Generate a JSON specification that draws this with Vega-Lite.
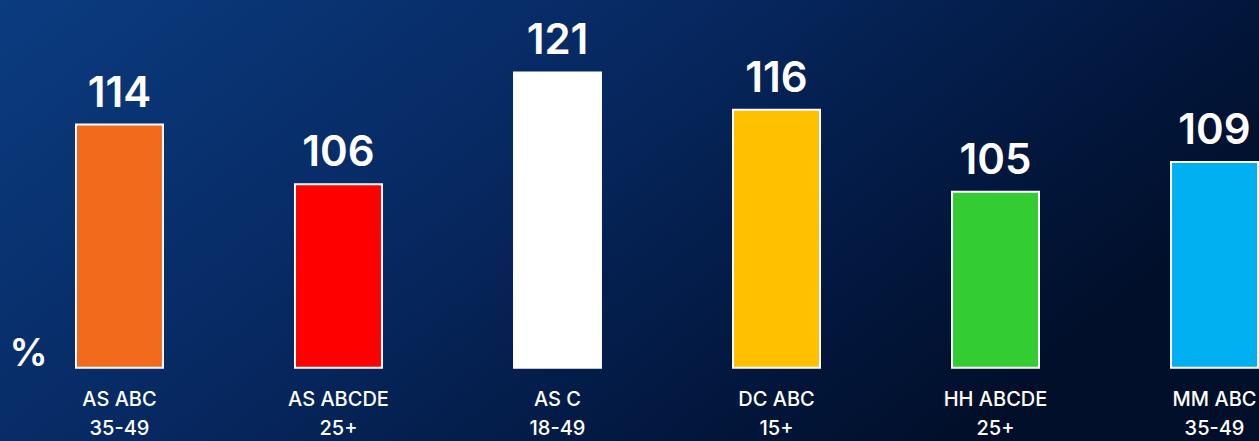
{
  "$schema": "https://vega.github.io/schema/vega-lite/v6.json",
  "width": 1259,
  "height": 441,
  "autosize": {"type": "none"},
  "padding": 0,
  "background": "#01102c",
  "config": {"view": {"stroke": null}, "font": "Inter"},
  "layer": [
    {
      "data": {"values": [{}]},
      "mark": {
        "type": "rect",
        "fill": {
          "gradient": "linear",
          "x1": 0, "y1": 0, "x2": 1, "y2": 0.45,
          "stops": [
            {"offset": 0, "color": "#0b3c80"},
            {"offset": 0.45, "color": "#072962"},
            {"offset": 0.75, "color": "#031a44"},
            {"offset": 1, "color": "#010f2a"}
          ]
        }
      },
      "encoding": {
        "x": {"value": 0},
        "x2": {"value": "width"},
        "y": {"value": 0},
        "y2": {"value": "height"}
      }
    },
    {
      "data": {
        "values": [
          {"group": "AS ABC|35-49", "value": 114},
          {"group": "AS ABCDE|25+", "value": 106},
          {"group": "AS C|18-49", "value": 121},
          {"group": "DC ABC|15+", "value": 116},
          {"group": "HH ABCDE|25+", "value": 105},
          {"group": "MM ABC|35-49", "value": 109}
        ]
      },
      "encoding": {
        "x": {
          "field": "group",
          "type": "nominal",
          "sort": null,
          "scale": {"range": [0, 1334], "paddingInner": 0.603, "paddingOuter": 0.347},
          "axis": {
            "title": null,
            "domain": false,
            "ticks": false,
            "zindex": 2,
            "offset": -73,
            "labelAngle": 0,
            "labelExpr": "split(datum.label, '|')",
            "labelColor": "#ffffff",
            "labelFont": "Inter",
            "labelFontSize": 20,
            "labelFontWeight": 500,
            "labelLineHeight": 29,
            "labelPadding": 21,
            "labelBaseline": "top"
          }
        },
        "y": {
          "field": "value",
          "type": "quantitative",
          "scale": {"domain": [71.6, 130.7], "zero": false, "nice": false},
          "axis": {
            "labels": false,
            "ticks": false,
            "domain": false,
            "grid": false,
            "zindex": 2,
            "title": "%",
            "titleAngle": 0,
            "titleX": 28,
            "titleY": 354,
            "titleAlign": "center",
            "titleBaseline": "middle",
            "titleColor": "#ffffff",
            "titleFont": "Inter",
            "titleFontSize": 38,
            "titleFontWeight": 600
          }
        }
      },
      "layer": [
        {
          "mark": {"type": "bar", "stroke": "#ffffff", "strokeWidth": 2},
          "encoding": {
            "y2": {"datum": 81.4},
            "color": {
              "field": "group",
              "type": "nominal",
              "sort": null,
              "scale": {
                "domain": ["AS ABC|35-49", "AS ABCDE|25+", "AS C|18-49", "DC ABC|15+", "HH ABCDE|25+", "MM ABC|35-49"],
                "range": ["#f26a1b", "#ff0000", "#ffffff", "#ffc000", "#33cc33", "#00b0f0"]
              },
              "legend": null
            }
          }
        },
        {
          "mark": {
            "type": "text",
            "dy": -18,
            "baseline": "alphabetic",
            "align": "center",
            "color": "#ffffff",
            "font": "Inter",
            "fontSize": 42,
            "fontWeight": 600
          },
          "encoding": {"text": {"field": "value", "type": "quantitative"}}
        }
      ]
    }
  ]
}
